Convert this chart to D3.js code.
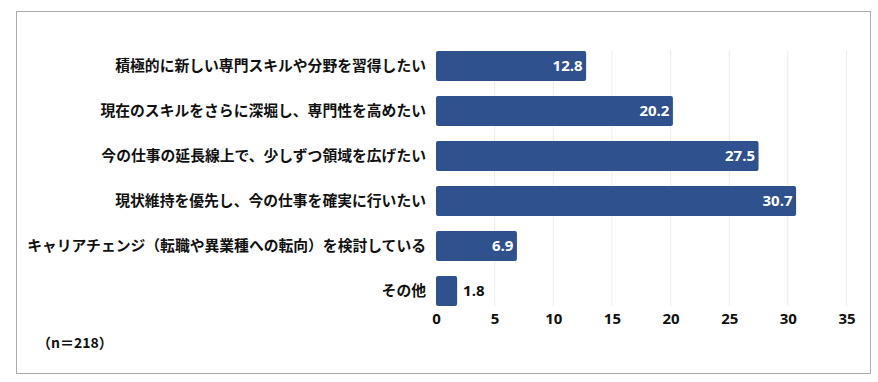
<!DOCTYPE html>
<html>
<head>
<meta charset="utf-8">
<script src="https://cdn.jsdelivr.net/npm/d3@7"></script>
<style>
  body { margin: 0; background: #fff; }
  svg { display: block; }
  .cat { font-family: "Noto Sans CJK JP", sans-serif; font-weight: 700; font-size: 14.8px; fill: #111; }
  .num { font-family: "Open Sans", "Noto Sans", sans-serif; font-weight: 700; font-size: 15px; }
</style>
</head>
<body>
<div id="chart"></div>
<script>
const categories = [
  '積極的に新しい専門スキルや分野を習得したい',
  '現在のスキルをさらに深堀し、専門性を高めたい',
  '今の仕事の延長線上で、少しずつ領域を広げたい',
  '現状維持を優先し、今の仕事を確実に行いたい',
  'キャリアチェンジ（転職や異業種への転向）を検討している',
  'その他'
];
const values = [12.8, 20.2, 27.5, 30.7, 6.9, 1.8];
const xTicks = [0, 5, 10, 15, 20, 25, 30, 35];
const note = '（n＝218）';

const width = 878, height = 382;
const barColor = '#2f528f';

const svg = d3.select('#chart').append('svg')
  .attr('width', width)
  .attr('height', height);

// outer frame
svg.append('rect')
  .attr('x', 16.5).attr('y', 11.5)
  .attr('width', 854).attr('height', 362)
  .attr('fill', 'none')
  .attr('stroke', '#ababab');

const x = d3.scaleLinear().domain([0, 35]).range([436, 846.5]);
const y = d3.scaleBand().domain(categories).range([43.5, 313.5])
  .paddingInner(1 / 3).paddingOuter(1 / 6);

const gridTop = y(categories[0]);
const gridBottom = y(categories[categories.length - 1]) + y.bandwidth();

// vertical gridlines
svg.append('g')
  .selectAll('line')
  .data(xTicks.slice(1))
  .join('line')
  .attr('x1', d => x(d)).attr('x2', d => x(d))
  .attr('y1', gridTop).attr('y2', gridBottom)
  .attr('stroke', '#ececec');

// x axis labels
const xAxis = svg.append('g')
  .attr('transform', `translate(0,${gridBottom})`)
  .call(d3.axisBottom(x).tickValues(xTicks).tickSize(0).tickPadding(7));
xAxis.select('.domain').remove();
xAxis.selectAll('text')
  .attr('class', 'num')
  .attr('fill', '#111');

// category labels
svg.append('g')
  .selectAll('text')
  .data(categories)
  .join('text')
  .attr('class', 'cat')
  .attr('x', 426)
  .attr('y', d => y(d) + y.bandwidth() / 2)
  .attr('dy', '0.35em')
  .attr('text-anchor', 'end')
  .text(d => d);

// bars
svg.append('g')
  .selectAll('rect')
  .data(values)
  .join('rect')
  .attr('x', x(0))
  .attr('y', (d, i) => y(categories[i]))
  .attr('width', d => x(d) - x(0))
  .attr('height', y.bandwidth())
  .attr('rx', 2)
  .attr('fill', barColor);

// value labels
svg.append('g')
  .selectAll('text')
  .data(values)
  .join('text')
  .attr('class', 'num')
  .attr('x', d => d < 5 ? x(d) + 6 : x(d) - 3.5)
  .attr('y', (d, i) => y(categories[i]) + y.bandwidth() / 2)
  .attr('dy', '0.35em')
  .attr('text-anchor', d => d < 5 ? 'start' : 'end')
  .attr('fill', d => d < 5 ? '#111' : '#fff')
  .text(d => d.toFixed(1));

// sample size note
svg.append('text')
  .attr('class', 'cat')
  .attr('x', 37)
  .attr('y', 343)
  .attr('dy', '0.35em')
  .style('font-size', '14px')
  .text(note);
</script>
</body>
</html>
